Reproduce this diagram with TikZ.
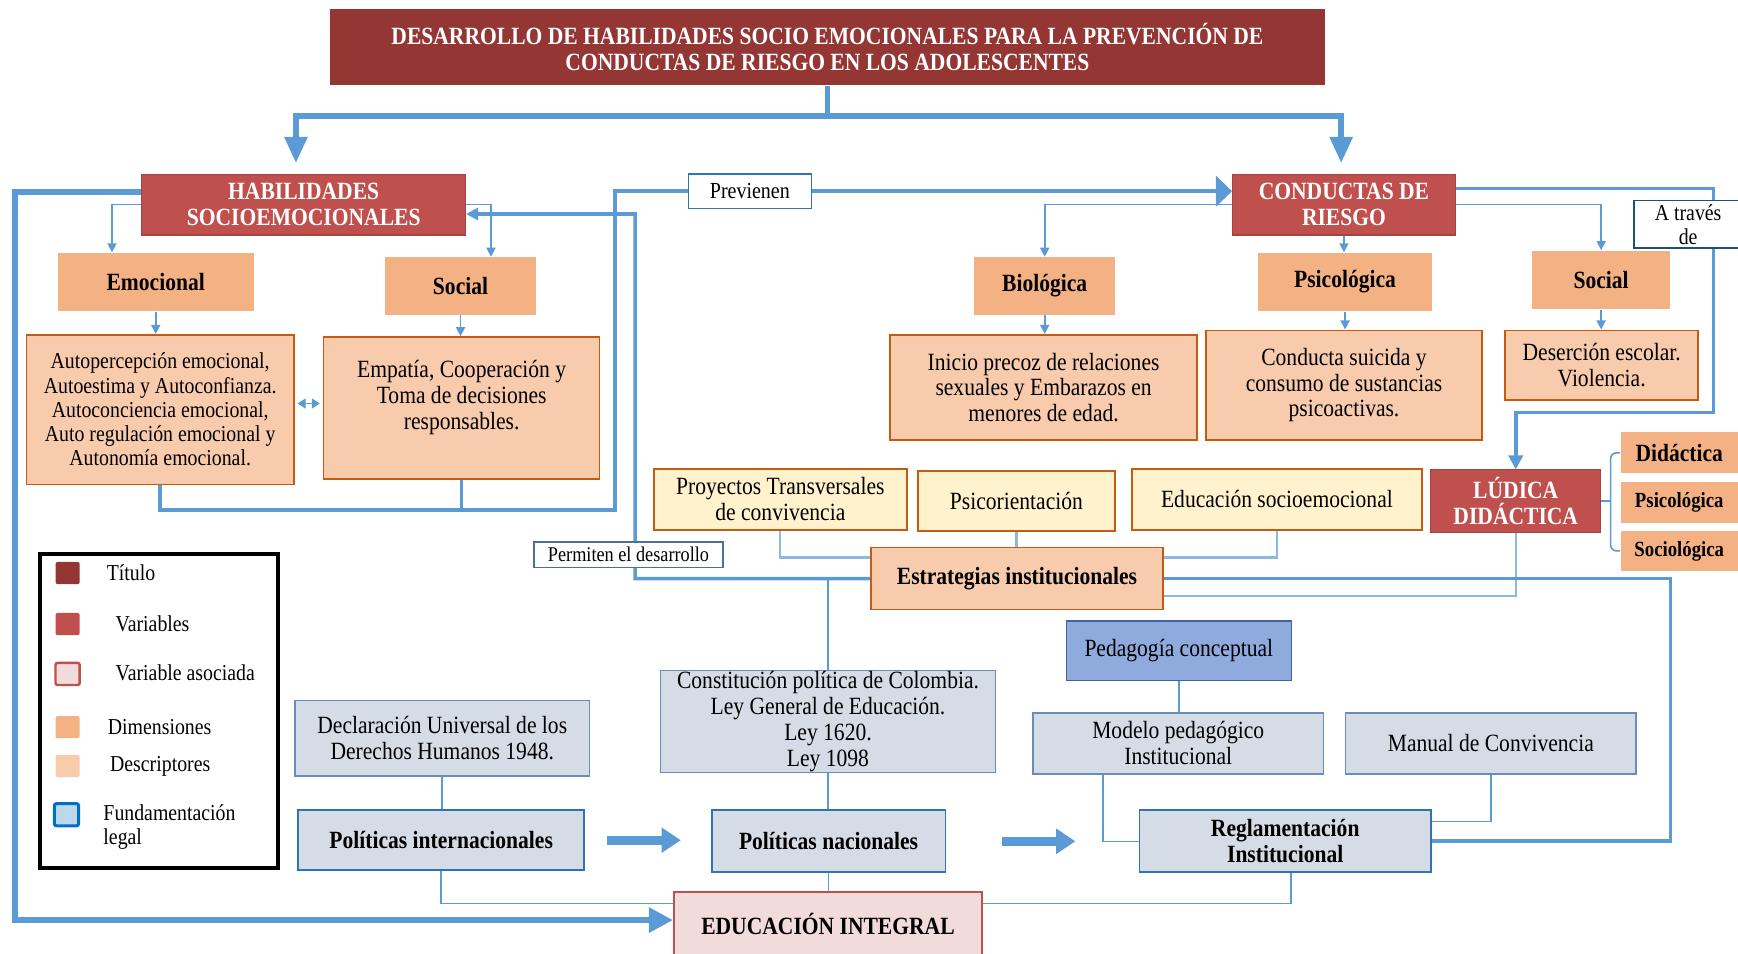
\documentclass[tikz,border=0pt]{standalone}
\usepackage{fontspec}
\setmainfont{Liberation Serif}[FakeStretch=0.87]
\usetikzlibrary{arrows.meta,calc}
\definecolor{titred}{HTML}{943634}
\definecolor{varred}{HTML}{C0504D}
\definecolor{dimor}{HTML}{F4B183}
\definecolor{descor}{HTML}{F8CBAD}
\definecolor{orbord}{HTML}{C55A11}
\definecolor{stratyel}{HTML}{FFF2CC}
\definecolor{legfill}{HTML}{D6DCE5}
\definecolor{legbord}{HTML}{6A8CB8}
\definecolor{polbord}{HTML}{2E75B6}
\definecolor{pedfill}{HTML}{8FAADC}
\definecolor{pedbord}{HTML}{41649B}
\definecolor{edufill}{HTML}{F2DCDB}
\definecolor{lnblue}{HTML}{5B9BD5}
\definecolor{lnlight}{HTML}{8DB8E2}
\definecolor{fundfill}{HTML}{BDD7EE}
\definecolor{fundbord}{HTML}{0070C0}
\definecolor{tagdark}{HTML}{1F4E79}
\pgfdeclarelayer{bg}
\pgfsetlayers{bg,main}
\newcommand\myfs[2]{\fontsize{#1}{#2}\selectfont}
\tikzset{
 bx/.style={inner sep=0pt, align=center, text=black, font=\myfs{12.3}{12.8}},
 titlebox/.style={bx, fill=titred, text=white, font=\bfseries\myfs{12.3}{13.2}},
 varbox/.style={bx, fill=varred, draw=varred!85!black, line width=0.5pt, text=white, font=\bfseries\myfs{12.3}{12.8}},
 dimbox/.style={bx, fill=dimor, font=\bfseries\myfs{12.3}{12.8}},
 descbox/.style={bx, fill=descor, draw=orbord, line width=0.8pt},
 stratbox/.style={bx, fill=stratyel, draw=orbord, line width=0.8pt},
 legalbox/.style={bx, fill=legfill, draw=legbord, line width=0.8pt},
 polbox/.style={bx, fill=legfill, draw=polbord, line width=0.9pt, font=\bfseries\myfs{12.3}{12.8}},
 tagbox/.style={bx, fill=white, draw=polbord, line width=0.8pt},
 thinln/.style={draw=lnblue, line width=0.8pt},
 thinarr/.style={thinln, -{Triangle[length=4.5pt,width=4.5pt]}},
 medln/.style={draw=lnblue, line width=1.8pt},
 bigln/.style={draw=lnblue, line width=2.8pt},
 lightln/.style={draw=lnlight, line width=1.1pt},
 blockarr/.style={draw=lnblue, line width=4.4pt, -{Triangle[length=9.5pt,width=12pt]}},
 legsq/.style={minimum width=12pt, minimum height=11pt, inner sep=0pt, rounded corners=1pt},
 legtxt/.style={anchor=west, inner sep=0pt, align=left, font=\myfs{11.3}{12}},
}
\begin{document}
\begin{tikzpicture}[x=0.55pt,y=-0.55pt]
\useasboundingbox (0,0) rectangle (1568,860);
% ---------- nodes ----------
\node[titlebox, minimum width=493.35pt, minimum height=37.95pt] (title) at (746.5,42.5) {DESARROLLO DE HABILIDADES SOCIO EMOCIONALES PARA LA PREVENCIÓN DE\\CONDUCTAS DE RIESGO EN LOS ADOLESCENTES};
\node[varbox, minimum width=160.6pt, minimum height=30.25pt] (hab) at (274,184.5) {HABILIDADES\\SOCIOEMOCIONALES};
\node[varbox, minimum width=110.55pt, minimum height=30.25pt] (cond) at (1212.5,184.5) {CONDUCTAS DE\\RIESGO};
\node[dimbox, minimum width=97.35pt, minimum height=29.15pt] (emo) at (140.5,254.5) {Emocional};
\node[dimbox, minimum width=75.35pt, minimum height=28.6pt] (socA) at (415.5,258) {Social};
\node[descbox, minimum width=132.55pt, minimum height=74.25pt, font=\myfs{11.3}{12}] (demo) at (144.5,369.5) {Autopercepción emocional,\\Autoestima y Autoconfianza.\\Autoconciencia emocional,\\Auto regulación emocional y\\Autonomía emocional.};
\node[descbox, minimum width=136.95pt, minimum height=70.4pt] (dsoc) at (416.5,368) {Empatía, Cooperación y\\Toma de decisiones\\responsables.\\\mbox{}};
\node[dimbox, minimum width=69.85pt, minimum height=28.6pt] (bio) at (942.5,258) {Biológica};
\node[dimbox, minimum width=86.35pt, minimum height=29.15pt] (psi) at (1213.5,254.5) {Psicológica};
\node[dimbox, minimum width=68.75pt, minimum height=29.15pt] (socB) at (1444.5,252.5) {Social};
\node[descbox, minimum width=152.35pt, minimum height=52.25pt] (dbio) at (941.5,349.5) {Inicio precoz de relaciones\\sexuales y Embarazos en\\menores de edad.};
\node[descbox, minimum width=136.95pt, minimum height=54.45pt] (dpsi) at (1212.5,347.5) {Conducta suicida y\\consumo de sustancias\\psicoactivas.};
\node[descbox, minimum width=95.7pt, minimum height=34.65pt] (dsocB) at (1445,329.5) {Deserción escolar.\\Violencia.};
\node[tagbox, minimum width=61.05pt, minimum height=17.05pt, font=\myfs{11.4}{12}] (prev) at (676.5,172.5) {Previenen};
\node[tagbox, draw=tagdark, minimum width=53.9pt, minimum height=23.65pt, font=\myfs{11.3}{12}] (atr) at (1523,202.5) {A través\\de};
\node[stratbox, minimum width=125.4pt, minimum height=30.25pt] (proy) at (704,450.5) {Proyectos Transversales\\de convivencia};
\node[stratbox, minimum width=97.9pt, minimum height=29.7pt] (psico) at (917,452) {Psicorientación};
\node[stratbox, minimum width=144.1pt, minimum height=30.25pt] (educ) at (1152,450.5) {Educación socioemocional};
\node[varbox, minimum width=84.15pt, minimum height=30.8pt] (lud) at (1367.5,452) {LÚDICA\\DIDÁCTICA};
\node[dimbox, minimum width=58.3pt, minimum height=20.35pt] (did) at (1515,408.5) {Didáctica};
\node[dimbox, minimum width=58.3pt, minimum height=20.35pt, font=\bfseries\myfs{10.7}{11}] (psiC) at (1515,453.5) {Psicológica};
\node[dimbox, minimum width=58.3pt, minimum height=19.8pt, font=\bfseries\myfs{10.7}{11}] (socio) at (1515,497) {Sociológica};
\node[descbox, minimum width=144.65pt, minimum height=30.8pt, font=\bfseries\myfs{12.3}{12.8}] (estr) at (917.5,522) {Estrategias institucionales};
\node[tagbox, draw=tagdark!80, minimum width=93.5pt, minimum height=12.65pt, font=\myfs{10.4}{11}] (perm) at (567,500.5) {Permiten el desarrollo};
\node[bx, fill=pedfill, draw=pedbord, line width=0.8pt, minimum width=111.65pt, minimum height=29.7pt] (ped) at (1063.5,587) {Pedagogía conceptual};
\node[legalbox, minimum width=144.1pt, minimum height=30.25pt] (mod) at (1063,670.5) {Modelo pedagógico\\Institucional};
\node[legalbox, minimum width=144.1pt, minimum height=30.25pt] (man) at (1345,670.5) {Manual de Convivencia};
\node[legalbox, minimum width=166.1pt, minimum height=50.6pt] (const) at (747,651) {Constitución política de Colombia.\\Ley General de Educación.\\Ley 1620.\\Ley 1098};
\node[legalbox, minimum width=146.3pt, minimum height=37.4pt] (decl) at (399,666) {Declaración Universal de los\\Derechos Humanos 1948.};
\node[polbox, minimum width=141.9pt, minimum height=29.7pt] (pint) at (398,758) {Políticas internacionales};
\node[polbox, minimum width=116.05pt, minimum height=30.8pt] (pnac) at (747.5,759) {Políticas nacionales};
\node[polbox, minimum width=144.65pt, minimum height=30.8pt] (regl) at (1159.5,759) {Reglamentación\\Institucional};
\node[bx, fill=edufill, draw=varred, line width=0.9pt, minimum width=152.9pt, minimum height=31.35pt, font=\bfseries\myfs{12.3}{12.8}] (edu) at (747,833.5) {EDUCACIÓN INTEGRAL};
% legend
\node[draw=black, line width=1.8pt, minimum width=118.25pt, minimum height=155.65pt, inner sep=0pt] (leg) at (143.5,641.5) {};
\node[legsq, fill=titred] (sq1) at (61,517) {};
\node[legtxt] (lt1) at (96,517) {Título};
\node[legsq, fill=varred] (sq2) at (61,563) {};
\node[legtxt] (lt2) at (104,563) {Variables};
\node[legsq, fill=edufill, draw=varred, line width=1.2pt] (sq3) at (61,608) {};
\node[legtxt] (lt3) at (104,607) {Variable asociada};
\node[legsq, fill=dimor] (sq4) at (61,656) {};
\node[legtxt] (lt4) at (97,656) {Dimensiones};
\node[legsq, fill=descor] (sq5) at (61,691) {};
\node[legtxt] (lt5) at (99,691) {Descriptores};
\node[legsq, fill=fundfill, draw=fundbord, line width=1.5pt] (sq6) at (60,735) {};
\node[legtxt] (lt6) at (93,746) {Fundamentación\\legal};
% ---------- connectors ----------
\begin{pgfonlayer}{bg}
\coordinate (tl) at (267,147);
\coordinate (tr) at (1210,147);
\draw[bigln, -{Triangle[length=13pt,width=11pt]}] (title.south) -- ++(0,27) -| (tl);
\draw[bigln, -{Triangle[length=13pt,width=11pt]}] (title.south) -- ++(0,27) -| (tr);
\draw[bigln, -{Triangle[length=12pt,width=12pt]}] ([yshift=6.3pt]hab.west) -- ++(-114,0) |- ([yshift=1.9pt]edu.west);
\draw[thinarr] (hab.west) -| ([xshift=-21.7pt]emo.north);
\draw[thinarr] (hab.east) -| ([xshift=15.1pt]socA.north);
\coordinate (k1) at (573,193);
\draw[medln, -{Triangle[length=6pt,width=6pt]}] (estr.west) -| (k1) -- ([yshift=-4.7pt]hab.east);
\draw[thinln] (const.north) -- (const.north |- estr.west);
\coordinate (b1) at (555,460);
\draw[medln] (demo.south) |- (b1) |- (prev.west);
\draw[medln] (dsoc.south) -- (dsoc.south |- b1);
\draw[medln, -{Triangle[length=8pt,width=15pt]}] (prev.east) -- (prev.east -| cond.west);
\draw[thinarr] (cond.west) -| (bio.north);
\draw[thinarr] (cond.south) -- (cond.south |- psi.north);
\draw[thinarr] (cond.east) -| (socB.north);
\coordinate (r1) at (1546,372);
\draw[medln, -{Triangle[length=7pt,width=7pt]}] ([yshift=8pt]cond.east) -| (r1) -| (lud.north);
\draw[thinarr] (emo.south) -- (emo.south |- demo.north);
\draw[thinarr] (socA.south) -- (socA.south |- dsoc.north);
\draw[thinarr] (bio.south) -- (bio.south |- dbio.north);
\draw[thinarr] (psi.south) -- (psi.south |- dpsi.north);
\draw[thinarr] (socB.south) -- (socB.south |- dsocB.north);
\draw[thinln, {Triangle[length=4pt,width=5pt]}-{Triangle[length=4pt,width=5pt]}, shorten <=1.5pt, shorten >=1.5pt] ([yshift=3pt]demo.east) -- ([yshift=3pt]demo.east -| dsoc.west);
\draw[lightln] (proy.south) |- ([yshift=10.45pt]estr.west);
\draw[lightln] (psico.south) -- (psico.south |- estr.north);
\draw[lightln] (educ.south) |- ([yshift=10.45pt]estr.east);
\draw[lightln] (lud.south) |- ([yshift=-8.8pt]estr.east);
\coordinate (r2) at (1507,759);
\draw[medln] (estr.east) -| (r2) -- (regl.east);
\coordinate (brk) at (1453,452);
\draw[thinln, rounded corners=3pt] (did.west) -| (brk) |- (socio.west);
\draw[thinln] (lud.east) -- (brk);
\draw[thinln] (decl.south) -- (decl.south |- pint.north);
\draw[thinln] (pint.south) |- ([yshift=10.2pt]edu.west);
\draw[thinln] (const.south) -- (const.south |- pnac.north);
\draw[thinln] (pnac.south) -- (pnac.south |- edu.north);
\draw[thinln] (ped.south) -- (ped.south |- mod.north);
\draw[thinln] ([xshift=-37.4pt]mod.south) |- (regl.west);
\draw[thinln] (man.south) |- ([yshift=9.9pt]regl.east);
\draw[thinln] ([xshift=3pt]regl.south) |- ([yshift=10.2pt]edu.east);
\draw[blockarr, shorten <=11pt, shorten >=14.85pt] (pint.east) -- (pint.east -| pnac.west);
\draw[blockarr, shorten <=27.5pt, shorten >=31.35pt] (pnac.east) -- (pnac.east -| regl.west);
\end{pgfonlayer}
\end{tikzpicture}
\end{document}
